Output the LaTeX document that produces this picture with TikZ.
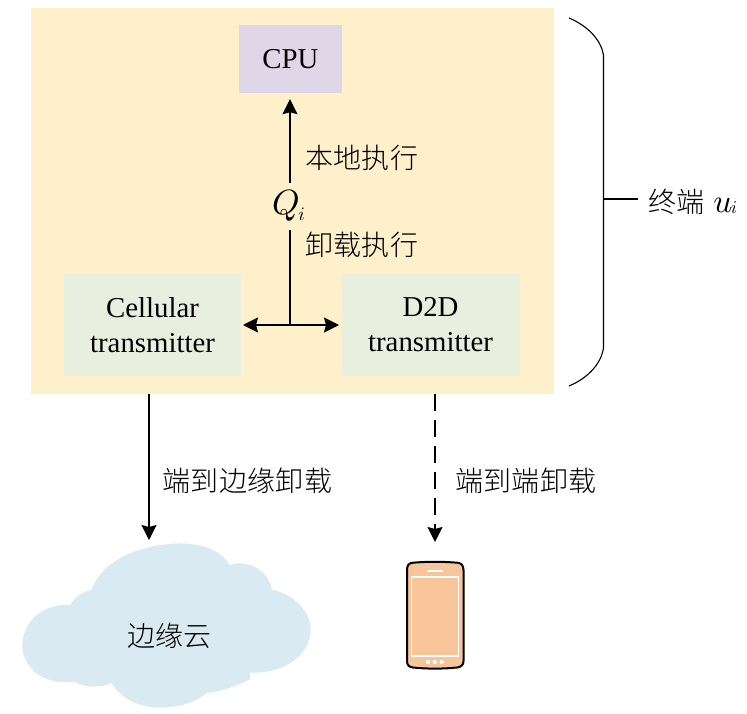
\documentclass[tikz,border=0pt]{standalone}
\usepackage{fontspec}
\setmainfont{Liberation Serif}
\newfontfamily\cjk[LetterSpace=1.0]{Noto Sans CJK SC Light}
\usetikzlibrary{arrows.meta}
\definecolor{termbg}{HTML}{FFF0CC}
\definecolor{cpubg}{HTML}{DFD7E8}
\definecolor{txbg}{HTML}{E9EFDF}
\definecolor{cloudbg}{HTML}{DAEAF2}
\definecolor{phonebg}{HTML}{F8C49A}
\tikzset{
  box/.style={draw=none,inner sep=0pt,align=center,font=\fontsize{28.8}{36}\selectfont},
  zh/.style={inner sep=0pt,anchor=west,font=\cjk\fontsize{28}{34}\selectfont},
  conn/.style={line width=1.6pt,-{Stealth[length=15pt,width=15pt,inset=2pt]}},
  both/.style={line width=1.6pt,{Stealth[length=15pt,width=15pt,inset=2pt]}-{Stealth[length=15pt,width=15pt,inset=2pt]}},
  brace/.style={line width=1.1pt}
}
\begin{document}
\begin{tikzpicture}[x=1pt,y=-1pt]
\useasboundingbox (0,0) rectangle (747,714);
\node[box,fill=termbg,minimum width=523pt,minimum height=386pt] (term) at (292.5,201) {};
\node[box,fill=cpubg,minimum width=103pt,minimum height=68pt] (cpu) at (290.5,59) {CPU};
\node[box,fill=txbg,minimum width=177pt,minimum height=102pt] (cell) at (152.5,325) {Cellular\\[-1pt]transmitter};
\node[box,fill=txbg,minimum width=178pt,minimum height=102pt] (d2d) at (430.5,325) {D2D\\[-1pt]transmitter};
\node[inner sep=0pt] (q) at (288.5,206) {\scalebox{3.5}{$Q$}\hspace{-1.5pt}\raisebox{-6pt}{\scalebox{1.9}{$i$}}};
\coordinate (qtop) at (290,183);
\coordinate (qbot) at (290,230);
\coordinate (junction) at (290,325);
\draw[conn,shorten >=6pt] (qtop) -- (qtop |- cpu.south);
\draw[line width=1.6pt] (qbot) -- (junction);
\draw[both] (243,325) coordinate (jl) -- (339,325) coordinate (jr);
\node[zh] (local) at (305,158) {本地执行};
\node[zh] (offl) at (305,245) {卸载执行};
% brace
\coordinate (btop) at (569,18);
\coordinate (bbot) at (569,386);
\coordinate (bmid) at (603.5,199);
\draw[brace] (btop) .. controls (588,26) and (601,40) .. (603.5,55) -- (603.5,348) .. controls (601,364) and (588,378) .. (bbot);
\node[inner sep=0pt,anchor=west] (label) at (648,202) {{\cjk\fontsize{28}{34}\selectfont 终端}\hspace{9pt}\scalebox{3.3}{$u$}\hspace{-1.5pt}\raisebox{-1pt}{\scalebox{1.8}{$i$}}};
\draw[brace] (bmid) -- (638,199) coordinate (bend);
% cloud
\path[fill=cloudbg] (91.7,590)
  .. controls (105,550) and (165,541) .. (190,544)
  .. controls (210,546) and (222,553) .. (230,565)
  .. controls (248,559) and (268,570) .. (271.7,589.3)
  .. controls (295,595) and (311,612) .. (310.7,630)
  .. controls (310,655) and (285,674) .. (250,672.7)
  -- (250,679)
  .. controls (238,686) and (222,691) .. (206.7,693.3)
  .. controls (192,705) and (172,708) .. (156.7,707.7)
  .. controls (135,706) and (120,697) .. (111.7,683)
  .. controls (100,688) and (85,688) .. (75,681.7)
  .. controls (40,686) and (22,665) .. (22.3,645)
  .. controls (23,620) and (45,603) .. (70,605)
  .. controls (76,596) and (84,591) .. (91.7,590) -- cycle;
\node[inner sep=0pt,font=\cjk\fontsize{28}{34}\selectfont] (cloud) at (169.5,636) {边缘云};
% phone
\node[inner sep=0pt,minimum width=57pt,minimum height=106pt] (phone) at (435,615.5) {};
\draw[line width=2pt,fill=phonebg] (407,570)
  .. controls (407,565) and (409,563) .. (413,562.7)
  .. controls (427,561.5) and (443,561.5) .. (457,562.7)
  .. controls (461,563) and (463.5,565) .. (463.5,570)
  -- (463.5,661)
  .. controls (463.5,665) and (461,667) .. (457,667.5)
  .. controls (443,669) and (427,669) .. (413,667.5)
  .. controls (409,667) and (407,665) .. (407,661) -- cycle;
\node[draw=white,line width=1.6pt,fill=none,minimum width=47pt,minimum height=78.5pt,inner sep=0pt] (screen) at (435,616.5) {};
\node[fill=white,minimum width=16pt,minimum height=2pt,inner sep=0pt] (speaker) at (435,570.7) {};
\foreach \x/\n in {428/a,434.7/b,441.7/c}
  \node[circle,fill=white,minimum size=4.4pt,inner sep=0pt] (dot\n) at (\x,662) {};
% lower arrows
\coordinate (cloudtop) at (149,540);
\coordinate (phonetop) at (435,542);
\draw[conn] (149,394) coordinate (a1) -- (cloudtop);
\draw[conn,dash pattern=on 17pt off 9pt] (435,394) coordinate (a2) -- (phonetop);
\node[zh] (e2e) at (162.5,481) {端到边缘卸载};
\node[zh] (d2dl) at (455,481) {端到端卸载};
\end{tikzpicture}
\end{document}
